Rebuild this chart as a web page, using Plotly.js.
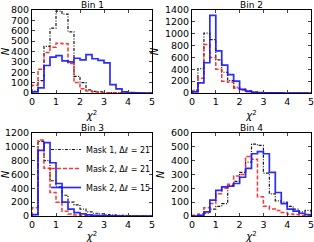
<!DOCTYPE html>
<html><head><meta charset="utf-8">
<script src="https://cdn.plot.ly/plotly-3.0.1.min.js"></script>
<style>body{margin:0;background:#fff}#c{width:314px;height:242px}</style>
</head><body><div id="c"></div>
<script>
const edges = [0,0.25,0.5,0.75,1,1.25,1.5,1.75,2,2.25,2.5,2.75,3,3.25,3.5,3.75,4,4.25,4.5,4.75,5];
const seriesNames = ["Mask 1, Δ<i>ℓ</i> = 21","Mask 2, Δ<i>ℓ</i> = 21","Mask 2, Δ<i>ℓ</i> = 15"];
const binTitles = ["Bin 1","Bin 2","Bin 3","Bin 4"];
// Bin 1
const bin1_mask1_21 = [20,120,450,625,790,760,590,160,100,30,15,10,5,3,2,1,0,0,0,0];
const bin1_mask2_21 = [75,230,390,440,480,475,285,100,40,20,10,5,3,2,1,0,0,0,0,0];
const bin1_mask2_15 = [10,50,265,345,360,310,300,335,320,370,330,315,290,80,40,10,3,1,0,0];
// Bin 2
const bin2_mask1_21 = [50,410,1010,900,560,350,210,100,60,30,15,8,5,3,2,1,0,0,0,0];
const bin2_mask2_21 = [30,250,820,600,400,200,180,80,50,20,10,5,3,2,1,0,0,0,0,0];
const bin2_mask2_15 = [20,170,510,1310,710,470,310,200,60,30,10,5,3,2,1,0,0,0,0,0];
// Bin 3
const bin3_mask1_21 = [20,1080,800,510,420,300,200,160,100,60,40,30,20,15,10,8,5,3,2,1];
const bin3_mask2_21 = [120,1100,690,340,200,70,30,15,5,3,2,1,0,0,0,0,0,0,0,0];
const bin3_mask2_15 = [20,950,1060,770,470,200,100,50,30,15,8,5,3,2,1,0,0,0,0,0];
// Bin 4
const bin4_mask1_21 = [0,5,20,50,70,90,220,250,315,390,520,510,310,160,110,100,70,50,30,40];
const bin4_mask2_21 = [5,15,60,90,160,200,230,290,300,430,410,140,70,50,40,25,15,10,5,3];
const bin4_mask2_15 = [0,5,30,115,185,210,215,235,280,345,450,465,450,315,170,90,50,35,20,10];
const yRanges = [[0,800],[0,1400],[0,1200],[0,600]];
const yDtick = [100,200,200,100];

const data = [
  [bin1_mask1_21,bin1_mask2_21,bin1_mask2_15],
  [bin2_mask1_21,bin2_mask2_21,bin2_mask2_15],
  [bin3_mask1_21,bin3_mask2_21,bin3_mask2_15],
  [bin4_mask1_21,bin4_mask2_21,bin4_mask2_15]
];
const styles = [
  {color:'black', dash:'3px,1.5px,1px,1.5px', width:1.2},
  {color:'rgb(255,30,30)', dash:'4px,2px', width:1.5},
  {color:'rgb(20,20,255)', dash:'solid', width:1.7}
];
function stepXY(vals){
  const x=[edges[0]], y=[0];
  for(let i=0;i<vals.length;i++){ x.push(edges[i]); y.push(vals[i]); }
  x.push(edges[edges.length-1]); y.push(vals[vals.length-1]);
  x.push(edges[edges.length-1]); y.push(0);
  return {x,y};
}
const traces=[];
data.forEach((panel,p)=>{
  panel.forEach((vals,s)=>{
    const xy=stepXY(vals);
    traces.push({type:'scatter',mode:'lines',x:xy.x,y:xy.y,
      line:{shape:'hv',color:styles[s].color,dash:styles[s].dash,width:styles[s].width},
      opacity:0.9,
      name:seriesNames[s], showlegend:p===2,
      xaxis: p===0?'x':'x'+(p+1), yaxis: p===0?'y':'y'+(p+1)});
  });
});
const W=314,H=242;
const boxes=[[32,152,10,93],[192,311,10,93],[32,152,133,216],[192,311,133,216]];
const layout={width:W,height:H,margin:{l:0,r:0,t:0,b:0},paper_bgcolor:'white',plot_bgcolor:'white',
  font:{family:'DejaVu Sans',size:9,color:'black'},
  legend:{x:46/W,y:1-135/H,xanchor:'left',yanchor:'top',bgcolor:'rgba(0,0,0,0)',font:{size:8},tracegroupgap:0,itemwidth:30},
  annotations:[], showlegend:true};
boxes.forEach((b,i)=>{
  const k=i===0?'':(i+1);
  const ax={domain:[b[0]/W,b[1]/W],range:[0,5],dtick:1,ticks:'inside',ticklen:3,showgrid:false,zeroline:false,
    showline:true,mirror:'ticks',linecolor:'black',linewidth:1,tickfont:{size:9.5},ticklabeloverflow:'allow',
    title:{text:'<i>χ</i><sup>2</sup>',font:{size:10},standoff:5},anchor:'y'+k};
  const ay={domain:[1-b[3]/H,1-b[2]/H],range:yRanges[i],dtick:yDtick[i],ticks:'inside',ticklen:3,showgrid:false,zeroline:false,
    showline:true,mirror:'ticks',linecolor:'black',linewidth:1,tickfont:{size:9.5},ticklabeloverflow:'allow',
    title:{text:'<i>N</i>',font:{size:10},standoff:4},anchor:'x'+k};
  layout['xaxis'+k]=ax; layout['yaxis'+k]=ay;
  layout.annotations.push({text:binTitles[i],xref:'paper',yref:'paper',x:(b[0]+b[1])/2/W,y:1-(b[2]-5)/H,
    xanchor:'center',yanchor:'middle',showarrow:false,font:{size:9}});
});
Plotly.newPlot('c',traces,layout,{staticPlot:true});
</script></body></html>
